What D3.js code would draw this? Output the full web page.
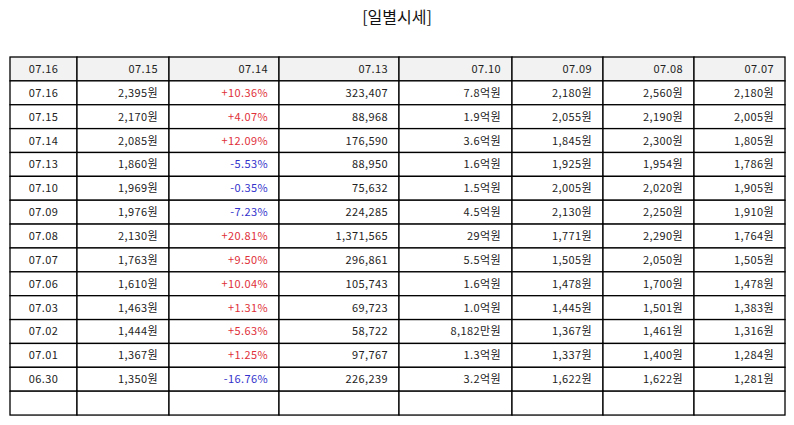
<!DOCTYPE html>
<html>
<head>
<meta charset="utf-8">
<script src="https://cdn.jsdelivr.net/npm/d3@7"></script>
<style>
	body { margin: 0; background: #fff; }
	svg text { font-family: "Noto Sans CJK KR", "Noto Sans", sans-serif; }
</style>
</head>
<body>
<div id="chart"></div>
<script>
// header labels as shown in the picture
var headers = ["07.16", "07.15", "07.14", "07.13", "07.10", "07.09", "07.08", "07.07"];

// daily rows
var dates = ["07.16", "07.15", "07.14", "07.13", "07.10", "07.09", "07.08", "07.07", "07.06", "07.03", "07.02", "07.01", "06.30"];
var closes = [2395, 2170, 2085, 1860, 1969, 1976, 2130, 1763, 1610, 1463, 1444, 1367, 1350];
var changes = [10.36, 4.07, 12.09, -5.53, -0.35, -7.23, 20.81, 9.50, 10.04, 1.31, 5.63, 1.25, -16.76];
var volumes = [323407, 88968, 176590, 88950, 75632, 224285, 1371565, 296861, 105743, 69723, 58722, 97767, 226239];
var amounts = ["7.8억원", "1.9억원", "3.6억원", "1.6억원", "1.5억원", "4.5억원", "29억원", "5.5억원", "1.6억원", "1.0억원", "8,182만원", "1.3억원", "3.2억원"];
var opens = [2180, 2055, 1845, 1925, 2005, 2130, 1771, 1505, 1478, 1445, 1367, 1337, 1622];
var highs = [2560, 2190, 2300, 1954, 2020, 2250, 2290, 2050, 1700, 1501, 1461, 1400, 1622];
var lows = [2180, 2005, 1805, 1786, 1905, 1910, 1764, 1505, 1478, 1383, 1316, 1284, 1281];

var width = 794, height = 425;
var colWidths = [67, 92, 110, 120, 113, 91, 91, 91];
var tableLeft = 10, tableTop = 57, rowH = 23.87;

var fmt = d3.format(",");
var won = function(v) { return fmt(v) + "원"; };
var pct = function(v) { return (v > 0 ? "+" : "") + v.toFixed(2) + "%"; };

// build the row cells; one trailing empty row like the source
var rows = dates.map(function(d, i) {
	return [
		{t: d},
		{t: won(closes[i])},
		{t: pct(changes[i]), c: changes[i] >= 0 ? "#e0303a" : "#3333cc"},
		{t: fmt(volumes[i])},
		{t: amounts[i]},
		{t: won(opens[i])},
		{t: won(highs[i])},
		{t: won(lows[i])}
	];
});
rows.unshift(headers.map(function(h) { return {t: h, head: true}; }));
rows.push(headers.map(function() { return {t: ""}; }));

var edges = [tableLeft];
colWidths.forEach(function(w) { edges.push(edges[edges.length - 1] + w); });

var y = d3.scaleBand()
	.domain(d3.range(rows.length))
	.range([tableTop, tableTop + rowH * rows.length]);

var svg = d3.select("#chart").append("svg")
	.attr("width", width)
	.attr("height", height);

svg.append("text")
	.attr("x", width / 2)
	.attr("y", 23)
	.attr("text-anchor", "middle")
	.attr("font-size", 16)
	.attr("fill", "#111")
	.text("[일별시세]");

var rowG = svg.selectAll(".row")
	.data(rows)
	.enter()
		.append("g")
		.attr("class", "row")
		.attr("transform", function(d, i) { return "translate(0," + y(i) + ")"; });

var cell = rowG.selectAll(".cell")
	.data(function(d) { return d; })
	.enter()
		.append("g")
		.attr("class", "cell");

cell.append("rect")
	.attr("x", function(d, j) { return edges[j]; })
	.attr("y", 0)
	.attr("width", function(d, j) { return colWidths[j]; })
	.attr("height", y.bandwidth())
	.attr("fill", function(d) { return d.head ? "#f2f2f2" : "#fff"; })
	.attr("stroke", "#000")
	.attr("stroke-width", 1.3);

cell.append("text")
	.attr("x", function(d, j) { return j == 0 ? edges[j] + colWidths[j] / 2 : edges[j + 1] - 11; })
	.attr("y", y.bandwidth() / 2 + 4)
	.attr("text-anchor", function(d, j) { return j == 0 ? "middle" : "end"; })
	.attr("font-size", 11)
	.attr("letter-spacing", 0.4)
	.attr("fill", function(d) { return d.c || "#222"; })
	.text(function(d) { return d.t; });
</script>
</body>
</html>
